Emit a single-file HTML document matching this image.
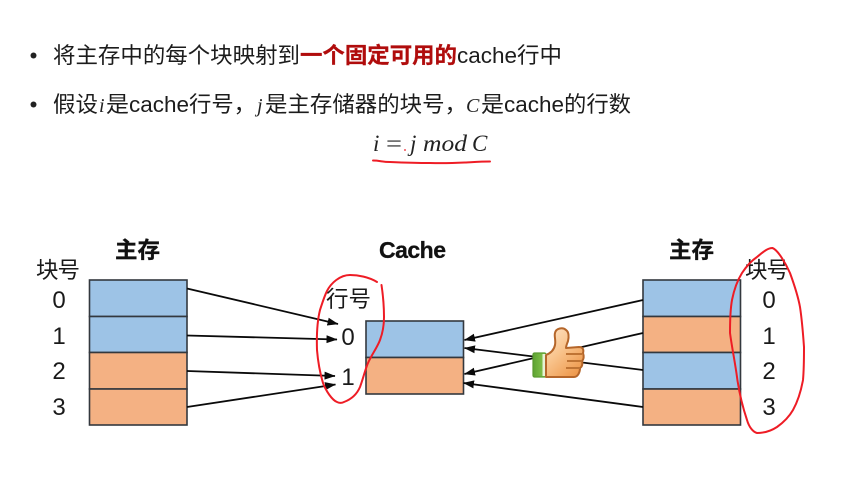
<!DOCTYPE html>
<html><head><meta charset="utf-8">
<style>
html,body{margin:0;padding:0;background:#fff;width:847px;height:490px;overflow:hidden}
svg{display:block}
text{font-family:"Liberation Sans","Noto Sans CJK SC",sans-serif;fill:#111}
.t{font-size:22px;fill:#1c1c1c}
.l{font-size:22.5px;fill:#1a1a1a}
.b{font-size:22.5px;font-weight:bold;fill:#111;stroke:#111;stroke-width:.3}
.m{font-family:"Liberation Serif",serif;font-style:italic;font-size:23px;fill:#222}
.n{font-size:24px;fill:#1a1a1a;text-anchor:middle}
.box{stroke:#33383e;stroke-width:1.6}
.ar{stroke:#0a0a0a;stroke-width:1.8;fill:none;marker-end:url(#a)}
.red{fill:none;stroke:#ee1c25;stroke-width:2;stroke-linejoin:round;stroke-linecap:round}
</style></head><body>
<svg width="847" height="490" viewBox="0 0 847 490" xmlns="http://www.w3.org/2000/svg">
<defs>
<marker id="a" markerWidth="11" markerHeight="9" refX="10.500" refY="4.500" orient="auto" markerUnits="userSpaceOnUse"><path d="M0 0.500L11 4.500L0 8.500z" fill="#0a0a0a"/></marker>
<linearGradient id="sk" x1="0" y1="0" x2=".7" y2="1"><stop offset="0" stop-color="#fde3c6"/><stop offset=".5" stop-color="#f9c48d"/><stop offset="1" stop-color="#ee9a4e"/></linearGradient>
<linearGradient id="gr" x1="0" y1="0" x2="1" y2="0"><stop offset="0" stop-color="#5da332"/><stop offset="1" stop-color="#8bc850"/></linearGradient>
</defs>
<rect width="847" height="490" fill="#fff"/>

<circle cx="33.500" cy="55.500" r="3" fill="#222"/>
<text class="t" x="53" y="63" textLength="247" lengthAdjust="spacingAndGlyphs">将主存中的每个块映射到</text>
<text class="t" x="300" y="63" textLength="157" lengthAdjust="spacingAndGlyphs" style="fill:#b00c0c;font-weight:bold;stroke:#b00c0c;stroke-width:.25">一个固定可用的</text>
<text class="t" x="457" y="63" textLength="60" lengthAdjust="spacingAndGlyphs">cache</text>
<text class="t" x="517" y="63" textLength="45" lengthAdjust="spacingAndGlyphs">行中</text>

<circle cx="33.500" cy="104.500" r="3" fill="#222"/>
<text class="t" x="53" y="112" textLength="45" lengthAdjust="spacingAndGlyphs">假设</text>
<text class="m" x="99" y="112" style="font-size:20px">i</text>
<text class="t" x="106" y="112" textLength="23" lengthAdjust="spacingAndGlyphs">是</text>
<text class="t" x="129" y="112" textLength="60" lengthAdjust="spacingAndGlyphs">cache</text>
<text class="t" x="189" y="112" textLength="67" lengthAdjust="spacingAndGlyphs">行号，</text>
<text class="m" x="257" y="112" style="font-size:20px">j</text>
<text class="t" x="265" y="112" textLength="202" lengthAdjust="spacingAndGlyphs">是主存储器的块号，</text>
<text class="m" x="466" y="112" style="font-size:20px">C</text>
<text class="t" x="481" y="112" textLength="23" lengthAdjust="spacingAndGlyphs">是</text>
<text class="t" x="504" y="112" textLength="60" lengthAdjust="spacingAndGlyphs">cache</text>
<text class="t" x="564" y="112" textLength="67" lengthAdjust="spacingAndGlyphs">的行数</text>

<text class="m" x="373" y="151">i</text>
<text class="m" x="386" y="151" style="font-style:normal" textLength="16" lengthAdjust="spacingAndGlyphs">=</text>
<text class="m" x="410" y="151">j</text>
<text class="m" x="423" y="151" textLength="44" lengthAdjust="spacingAndGlyphs">mod</text>
<text class="m" x="472" y="151">C</text>
<path class="red" d="M373 160.500C380 160.500 382 162 390 162C402 162.500 420 163 430 163C445 163.500 455 163 466 162.500C475 162 482 161.500 490 161.500"/>
<circle cx="405" cy="150" r=".9" fill="#ee1c25"/>

<text class="b" x="115" y="258" textLength="45">主存</text>
<text class="b" x="379" y="258" textLength="67" style="font-size:23px">Cache</text>
<text class="b" x="669" y="258" textLength="45">主存</text>

<rect class="box" x="89.500" y="280" width="97.500" height="36.500" fill="#9dc3e6"/>
<rect class="box" x="89.500" y="316.500" width="97.500" height="36" fill="#9dc3e6"/>
<rect class="box" x="89.500" y="352.500" width="97.500" height="36.500" fill="#f4b183"/>
<rect class="box" x="89.500" y="389" width="97.500" height="36" fill="#f4b183"/>

<rect class="box" x="366" y="321" width="97.500" height="36.500" fill="#9dc3e6"/>
<rect class="box" x="366" y="357.500" width="97.500" height="36.500" fill="#f4b183"/>

<rect class="box" x="643" y="280" width="97.500" height="36.500" fill="#9dc3e6"/>
<rect class="box" x="643" y="316.500" width="97.500" height="36" fill="#f4b183"/>
<rect class="box" x="643" y="352.500" width="97.500" height="36.500" fill="#9dc3e6"/>
<rect class="box" x="643" y="389" width="97.500" height="36" fill="#f4b183"/>

<text class="l" x="36" y="278" textLength="44">块号</text>
<text class="n" x="59" y="308">0</text><text class="n" x="59" y="344">1</text>
<text class="n" x="59" y="379">2</text><text class="n" x="59" y="415">3</text>

<text class="l" x="326" y="307" textLength="45">行号</text>
<text class="n" x="348" y="345">0</text><text class="n" x="348" y="385">1</text>

<text class="l" x="745" y="278" textLength="44">块号</text>
<text class="n" x="769" y="308">0</text><text class="n" x="769" y="344">1</text>
<text class="n" x="769" y="379">2</text><text class="n" x="769" y="415">3</text>

<line class="ar" x1="187" y1="288.500" x2="338" y2="324"/>
<line class="ar" x1="187" y1="335.500" x2="337" y2="339.500"/>
<line class="ar" x1="187" y1="371" x2="335" y2="376"/>
<line class="ar" x1="187" y1="407" x2="335.500" y2="384.500"/>

<line class="ar" x1="643" y1="300" x2="464.500" y2="340"/>
<line class="ar" x1="643" y1="333" x2="464.500" y2="374"/>
<line class="ar" x1="643" y1="370" x2="464.500" y2="348"/>
<line class="ar" x1="643" y1="407" x2="463.500" y2="383"/>

<path class="red" d="M377 282C369 277 358 275 350 275C340 275 331 283 327 291C324 297 322 304 320 310C317 322 316.500 335 317 350C318 362 320 373 323 383C326 391 332 400 337 402C340 403.500 342 403 344 402C352 399 357 394 360 387C363 379 365 370 368 363C372 354 377 348 380 340C383 332 384 325 384 317C384 306 383 295 381.500 285"/>
<path class="red" d="M772.500 248C767 248 762 253 757 257C751 261 746 267 742 273C737 281 734 290 732 300C730 311 730 322 730 333C732 348 735 362 737 377C739 392 743 408 747 420C749 427 753 432 757 433C764 433 771 431 777 427C784 422 789 417 793 410C798 401 801 391 803 380C804 369 804 358 804 347C803 333 802 320 800 307C798 296 794 284 790 273C786 264 778 250 772.500 248Z"/>

<g stroke-linejoin="round">
<rect x="533" y="353" width="13" height="24" rx="1.500" fill="url(#gr)" stroke="#5a9a30" stroke-width="1.200"/>
<rect x="542.500" y="354" width="3" height="22" fill="#e6f3d6"/>
<path d="M546 355C551 353 554 350 555 345C556 340 554 336 555 333C556 328 563 327 566 330C569 332 569 337 568 341C567 344 566 346 566 348L579 347C583 347 584 350 583 353C584 356 584 359 582 361C583 364 582 367 580 368C580 372 578 377 574 377L556 377C552 377 549 377 546 377Z" fill="url(#sk)" stroke="#b5662a" stroke-width="2"/>
<path d="M566 354H582M567 361H582M566 368H580" fill="none" stroke="#bf7434" stroke-width="2"/>
</g>
</svg>
</body></html>
